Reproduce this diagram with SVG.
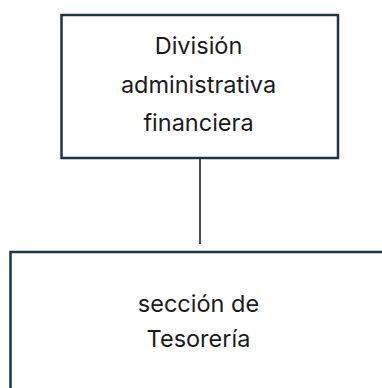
<svg xmlns="http://www.w3.org/2000/svg" width="382" height="388" viewBox="0 0 382 388">
<style>
.box{fill:#ffffff;stroke:#1d3647;stroke-width:2.5}
.lbl{font-family:Inter,"Liberation Sans",sans-serif;font-size:23.5px;fill:#1a1a1a;text-anchor:middle}
.conn{stroke:#111111;stroke-width:1.5;fill:none}
</style>
<rect width="382" height="388" fill="#ffffff"/>
<g id="connectors">
<line class="conn" x1="200" y1="158" x2="200" y2="244"/>
</g>
<g id="node-division">
<rect class="box" x="61.5" y="15" width="276.5" height="143"/>
<text class="lbl" x="198.5" y="54">División</text>
<text class="lbl" x="198.5" y="92.5">administrativa</text>
<text class="lbl" x="198.5" y="131">financiera</text>
</g>
<g id="node-tesoreria">
<rect class="box" x="10.5" y="252" width="400" height="200"/>
<text class="lbl" x="198.5" y="312">sección de</text>
<text class="lbl" x="198.5" y="346.5">Tesorería</text>
</g>
</svg>
